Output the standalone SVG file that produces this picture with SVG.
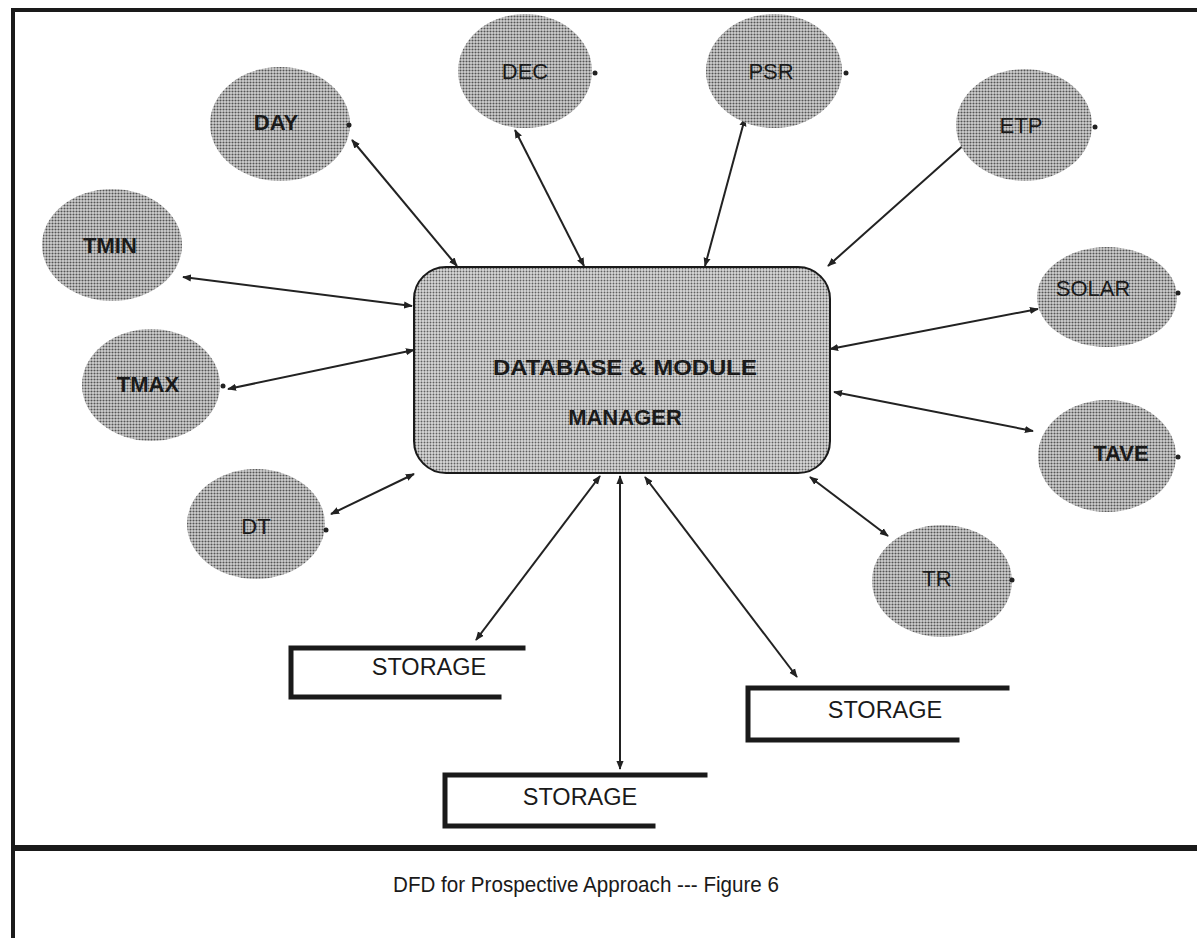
<svg xmlns="http://www.w3.org/2000/svg" width="1197" height="938" viewBox="0 0 1197 938">
  <defs>
    <!-- halftone screen used for process bubbles -->
    <pattern id="dots" patternUnits="userSpaceOnUse" width="3" height="3">
      <rect width="3" height="3" fill="#d2d2d2"/>
      <circle cx="1.5" cy="1.5" r="1.05" fill="#555"/>
    </pattern>
    <pattern id="dotsFine" patternUnits="userSpaceOnUse" width="3" height="3">
      <rect width="3" height="3" fill="#d8d8d8"/>
      <circle cx="1.5" cy="1.5" r="0.95" fill="#606060"/>
    </pattern>
    <marker id="arr" viewBox="0 0 10 10" refX="9" refY="5" markerWidth="9" markerHeight="9" markerUnits="userSpaceOnUse" orient="auto-start-reverse">
      <path d="M0,1 L10,5 L0,9 z" fill="#222"/>
    </marker>
  </defs>
  <style>
    .bubble { fill: url(#dots); }
    .lbl { font-family: "Liberation Sans", Arial, sans-serif; font-size: 22px; fill: #1a1a1a; text-anchor: middle; dominant-baseline: central; }
    .b { font-weight: bold; }
    .st { font-size: 23.5px; }
    .dot { fill: #222; }
    .flow { stroke: #222; stroke-width: 2; fill: none; marker-start: url(#arr); marker-end: url(#arr); }
    .store { stroke: #1a1a1a; stroke-width: 5; fill: none; stroke-linecap: square; }
    .frame { stroke: #1a1a1a; fill: none; }
  </style>

  <rect width="1197" height="938" fill="#ffffff"/>

  <!-- page frame -->
  <g id="frame">
    <path class="frame" stroke-width="4" d="M13,938 V10 H1197"/>
    <path class="frame" stroke-width="6" d="M13,848 H1197"/>
  </g>

  <!-- bidirectional data flows -->
  <g id="connectors">
    <line class="flow" x1="352" y1="140" x2="457" y2="266"/>
    <line class="flow" x1="515" y1="130" x2="584" y2="266"/>
    <line class="flow" x1="745" y1="118" x2="705" y2="266"/>
    <line class="flow" x1="975" y1="135" x2="828" y2="266"/>
    <line class="flow" x1="183" y1="277" x2="412" y2="306"/>
    <line class="flow" x1="1038" y1="309" x2="830" y2="349"/>
    <line class="flow" x1="228" y1="389" x2="414" y2="350"/>
    <line class="flow" x1="1033" y1="431" x2="834" y2="392"/>
    <line class="flow" x1="331" y1="514" x2="414" y2="474"/>
    <line class="flow" x1="888" y1="536" x2="810" y2="477"/>
    <line class="flow" x1="476" y1="640" x2="600" y2="476"/>
    <line class="flow" x1="620" y1="476" x2="620" y2="769"/>
    <line class="flow" x1="797" y1="677" x2="645" y2="477"/>
  </g>

  <g id="manager">
    <rect x="414" y="267" width="416" height="206" rx="32" fill="url(#dotsFine)" stroke="#1a1a1a" stroke-width="2"/>
    <text class="lbl b" x="625" y="367" font-size="23.5" textLength="264" lengthAdjust="spacingAndGlyphs">DATABASE &amp; MODULE</text>
    <text class="lbl b" x="625" y="417" font-size="23.5">MANAGER</text>
  </g>

  <g id="day">
    <ellipse class="bubble" cx="280" cy="124" rx="70" ry="57"/>
    <text class="lbl b" x="276" y="122">DAY</text>
    <circle class="dot" cx="349" cy="125" r="2.5"/>
  </g>
  <g id="dec">
    <ellipse class="bubble" cx="525" cy="71" rx="67" ry="57"/>
    <text class="lbl" x="525" y="71">DEC</text>
    <circle class="dot" cx="595" cy="73" r="2.5"/>
  </g>
  <g id="psr">
    <ellipse class="bubble" cx="774" cy="71" rx="68" ry="57"/>
    <text class="lbl" x="771" y="71">PSR</text>
    <circle class="dot" cx="846" cy="73" r="2.5"/>
  </g>
  <g id="etp">
    <ellipse class="bubble" cx="1024" cy="125" rx="68" ry="56"/>
    <text class="lbl" x="1021" y="125">ETP</text>
    <circle class="dot" cx="1095" cy="127" r="2.5"/>
  </g>
  <g id="tmin">
    <ellipse class="bubble" cx="112" cy="245" rx="70" ry="56"/>
    <text class="lbl b" x="110" y="245">TMIN</text>
  </g>
  <g id="solar">
    <ellipse class="bubble" cx="1107" cy="297" rx="70" ry="50"/>
    <text class="lbl" x="1093" y="288">SOLAR</text>
    <circle class="dot" cx="1178" cy="293" r="2.5"/>
  </g>
  <g id="tmax">
    <ellipse class="bubble" cx="151" cy="385" rx="69" ry="56"/>
    <text class="lbl b" x="148" y="384">TMAX</text>
    <circle class="dot" cx="223" cy="386" r="2.5"/>
  </g>
  <g id="tave">
    <ellipse class="bubble" cx="1107" cy="456" rx="69" ry="56"/>
    <text class="lbl b" x="1121" y="453">TAVE</text>
    <circle class="dot" cx="1178" cy="457" r="2.5"/>
  </g>
  <g id="dt">
    <ellipse class="bubble" cx="256" cy="524" rx="69" ry="55"/>
    <text class="lbl" x="256" y="526">DT</text>
    <circle class="dot" cx="326" cy="530" r="2.5"/>
  </g>
  <g id="tr">
    <ellipse class="bubble" cx="942" cy="581" rx="70" ry="56"/>
    <text class="lbl" x="937" y="578">TR</text>
    <circle class="dot" cx="1012" cy="580" r="2.5"/>
  </g>

  <g id="storage-1">
    <path class="store" d="M523,648 H291 V697 H499"/>
    <text class="lbl st" x="429" y="667">STORAGE</text>
  </g>
  <g id="storage-2">
    <path class="store" d="M705,775 H445 V826 H653"/>
    <text class="lbl st" x="580" y="797">STORAGE</text>
  </g>
  <g id="storage-3">
    <path class="store" d="M1007,688 H748 V740 H957"/>
    <text class="lbl st" x="885" y="710">STORAGE</text>
  </g>

  <g id="caption">
    <text class="lbl" x="586" y="884" font-size="23" textLength="386" lengthAdjust="spacingAndGlyphs">DFD for Prospective Approach --- Figure 6</text>
  </g>
</svg>
